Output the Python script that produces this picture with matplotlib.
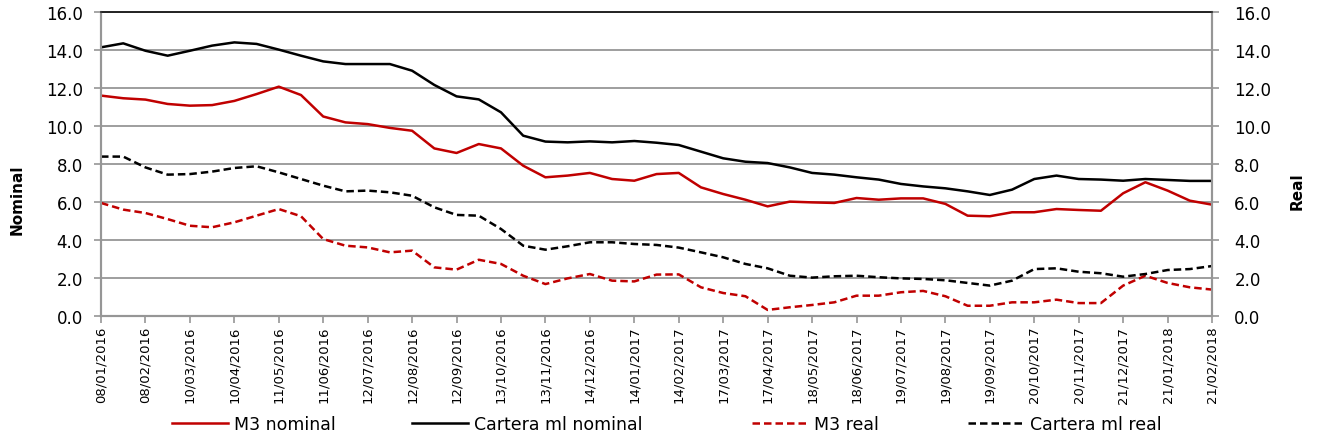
import matplotlib
matplotlib.use("Agg")
import matplotlib.pyplot as plt
import matplotlib.dates as mdates
import pandas as pd

# fechas de lectura (cada medio intervalo de eje) y valores
fechas = pd.date_range("2016-01-08", "2018-02-21", periods=51)

m3_nominal = [11.6, 11.46, 11.39, 11.16, 11.07, 11.1, 11.32, 11.68, 12.07, 11.63,
              10.5, 10.19, 10.1, 9.9, 9.75, 8.82, 8.58, 9.05, 8.82, 7.91,
              7.3, 7.39, 7.53, 7.21, 7.12, 7.47, 7.53, 6.77, 6.42, 6.12,
              5.77, 6.02, 5.98, 5.95, 6.21, 6.12, 6.19, 6.19, 5.9, 5.28,
              5.25, 5.46, 5.46, 5.63, 5.58, 5.54, 6.46, 7.04, 6.6, 6.07, 5.86]

cartera_nominal = [14.14, 14.35, 13.96, 13.7, 13.96, 14.23, 14.4, 14.32, 14.02, 13.7,
                   13.4, 13.26, 13.26, 13.26, 12.91, 12.16, 11.56, 11.4, 10.72, 9.49,
                   9.18, 9.14, 9.19, 9.14, 9.21, 9.12, 9.0, 8.65, 8.3, 8.12,
                   8.05, 7.82, 7.53, 7.44, 7.3, 7.18, 6.95, 6.82, 6.72, 6.56,
                   6.37, 6.65, 7.21, 7.39, 7.21, 7.18, 7.12, 7.21, 7.16, 7.11, 7.11]

m3_real = [5.95, 5.6, 5.42, 5.1, 4.75, 4.67, 4.93, 5.28, 5.63, 5.25,
           4.05, 3.7, 3.61, 3.35, 3.44, 2.56, 2.44, 2.96, 2.74, 2.12,
           1.68, 1.98, 2.21, 1.86, 1.82, 2.18, 2.19, 1.51, 1.21, 1.04,
           0.32, 0.46, 0.58, 0.72, 1.07, 1.07, 1.25, 1.32, 1.04, 0.54,
           0.54, 0.72, 0.72, 0.86, 0.68, 0.68, 1.6, 2.12, 1.74, 1.51, 1.39]

cartera_real = [8.39, 8.39, 7.82, 7.44, 7.47, 7.6, 7.79, 7.88, 7.56, 7.21,
                6.86, 6.56, 6.6, 6.51, 6.33, 5.72, 5.32, 5.28, 4.58, 3.7,
                3.49, 3.67, 3.88, 3.88, 3.79, 3.74, 3.6, 3.35, 3.09, 2.74,
                2.51, 2.12, 2.02, 2.09, 2.12, 2.04, 1.98, 1.95, 1.88, 1.74,
                1.6, 1.86, 2.47, 2.51, 2.33, 2.25, 2.07, 2.21, 2.42, 2.47, 2.63]

ticks_x = pd.date_range("2016-01-08", periods=26, freq="31D")

rojo = "#C00000"
gris = "#969696"

plt.rcParams["font.family"] = "DejaVu Sans"

fig = plt.figure(figsize=(13.17, 4.39), dpi=100)
ax = fig.add_axes([0.0767, 0.2779, 0.8436, 0.6925])
ax2 = ax.twinx()

lw = 1.8
l1, = ax.plot(fechas, m3_nominal, color=rojo, lw=lw, label="M3 nominal")
l2, = ax.plot(fechas, cartera_nominal, color="black", lw=lw, label="Cartera ml nominal")
l3, = ax2.plot(fechas, m3_real, color=rojo, lw=lw, dashes=(3, 1.6), label="M3 real")
l4, = ax2.plot(fechas, cartera_real, color="black", lw=lw, dashes=(3, 1.6), label="Cartera ml real")

for a in (ax, ax2):
    a.set_ylim(0, 16)
    a.set_yticks(range(0, 17, 2))
    a.set_yticklabels([f"{v:.1f}" for v in range(0, 17, 2)], fontsize=12)
    a.set_xlim(ticks_x[0], ticks_x[-1])
    for s in ("left", "right", "bottom"):
        a.spines[s].set_color(gris)
        a.spines[s].set_linewidth(1.5)
    a.spines["top"].set_color("#222222")
    a.spines["top"].set_linewidth(1.2)
ax.tick_params(axis="y", length=5, width=1.2, color=gris, pad=8)
ax2.tick_params(axis="y", length=5, width=1.2, color=gris, pad=11)

ax.grid(axis="y", color=gris, lw=1.3)
ax.set_axisbelow(True)

ax.set_xticks(ticks_x)
ax.xaxis.set_major_formatter(mdates.DateFormatter("%d/%m/%Y"))
ax.tick_params(axis="x", length=5, width=1.2, color=gris, labelsize=9.5, rotation=90, pad=2)

fig.text(0.013, 0.545, "Nominal", rotation=90, fontsize=11, fontweight="bold",
         ha="center", va="center")
fig.text(0.985, 0.565, "Real", rotation=90, fontsize=11, fontweight="bold",
         ha="center", va="center")

# una leyenda por serie, colocadas como en el original
pos_leyenda = [172, 412, 752, 968]
for h, xp in zip([l1, l2, l3, l4], pos_leyenda):
    fig.legend(handles=[h], loc="center left", bbox_to_anchor=(xp / 1317, 0.032),
               frameon=False, fontsize=12.5, handlelength=3.2, handletextpad=0.35,
               borderpad=0, borderaxespad=0)

fig.savefig("out.png", dpi=100)
